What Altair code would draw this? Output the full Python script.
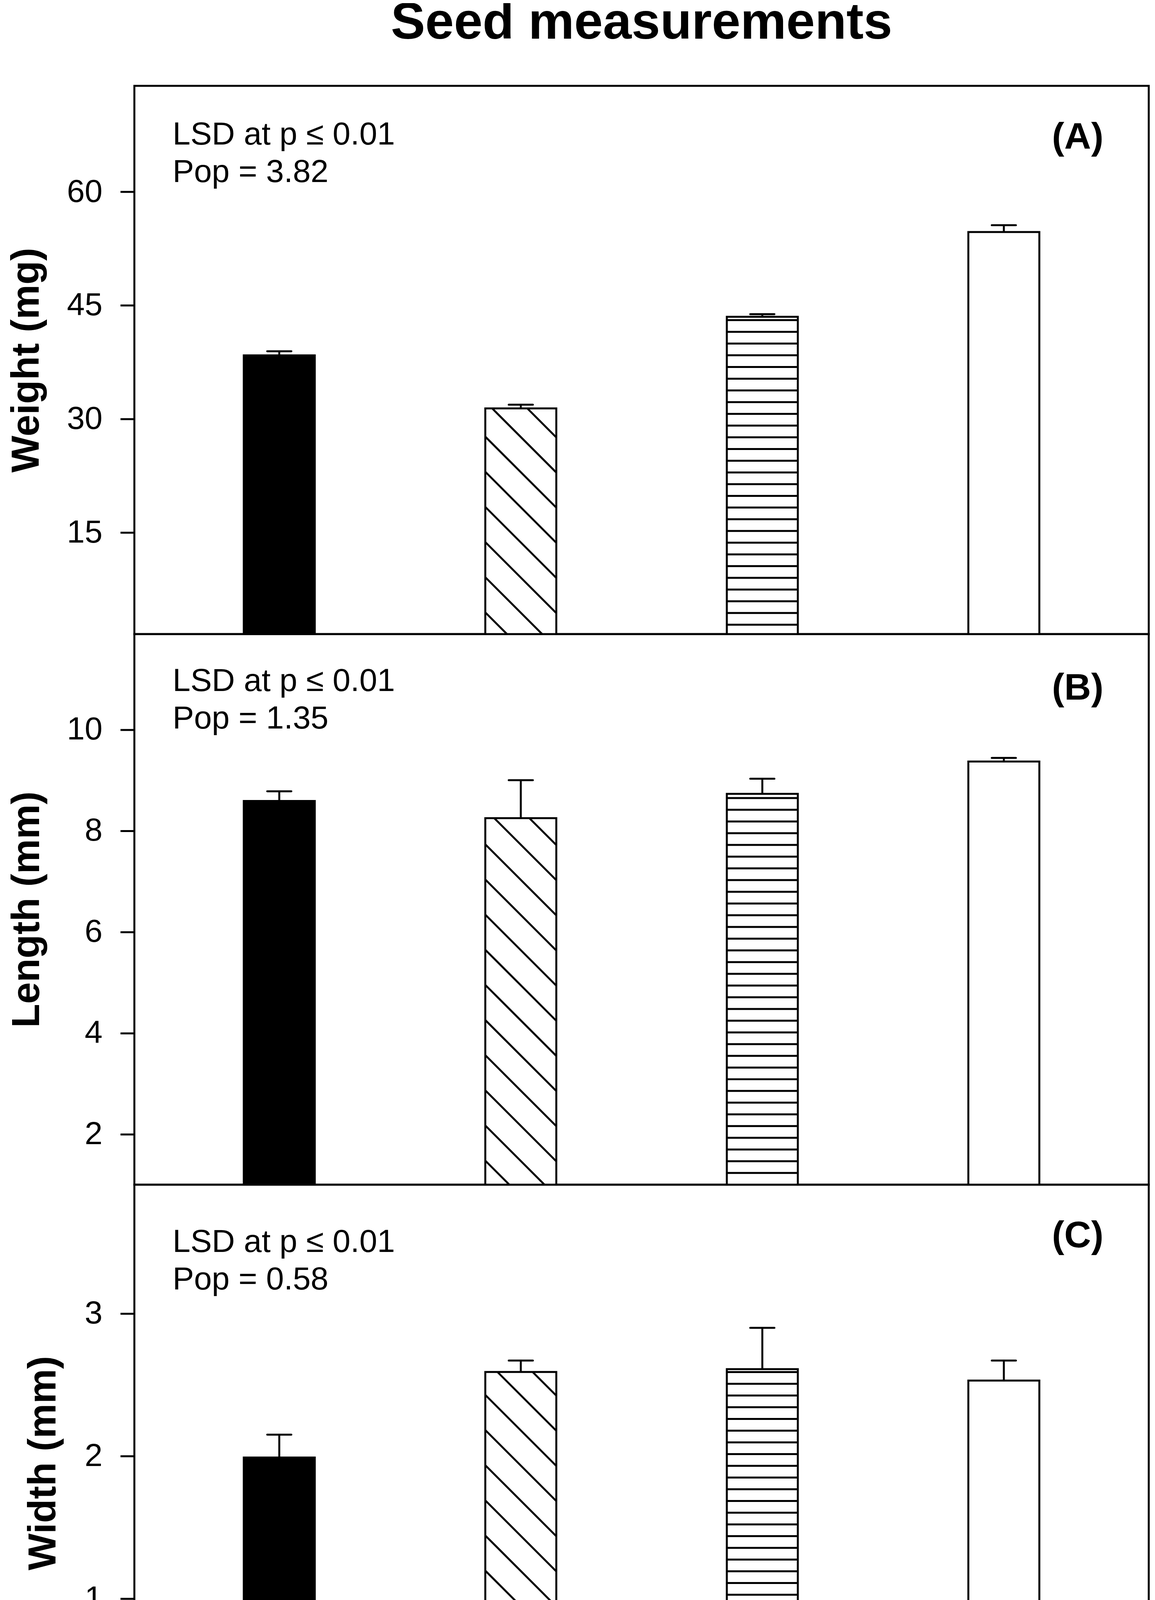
import altair as alt
import pandas as pd
import numpy as np

# ---------------- data ----------------
populations = ["Pop-1", "Pop-2", "Pop-3", "Pop-4"]
weight_mean = [38.4, 31.4, 43.5, 54.7]
weight_err = [0.55, 0.5, 0.35, 0.9]
length_mean = [8.59, 8.25, 8.73, 9.37]
length_err = [0.19, 0.75, 0.30, 0.07]
width_mean = [1.99, 2.59, 2.61, 2.53]
width_err = [0.16, 0.08, 0.29, 0.14]
lsd_pop = ["3.82", "1.35", "0.58"]
panel_tags = ["(A)", "(B)", "(C)"]
y_titles = ["Weight (mg)", "Length (mm)", "Width (mm)"]
y_ticks = [[15, 30, 45, 60], [2, 4, 6, 8, 10], [0, 1, 2, 3]]

# ---------------- layout / style ----------------
FONT = "Liberation Sans, Arial, sans-serif"
W = 2597
heights = [1404, 1410, 1425]
domains = [(1.6, 74.0), (1.0, 11.89), (0.0, 3.904)]
XMIN, XMAX = 0.4, 4.6
HALF = 0.147
CAP = 0.05
LW = 5
fills = ["black", "white", "white", "white"]
hatch = [None, "diag", "horiz", None]
title_x = [-245, -244, -202]
lsd_y = [150, 146, 172]
tag_y = [161, 168, 160]


def hatch_lines(means, ymin, ymax, H):
    step = W / (XMAX - XMIN)
    ppu = H / (ymax - ymin)
    to_x = lambda px: XMIN + px / step
    to_y = lambda py: ymax - py / ppu
    rows = []
    for i, (m, h) in enumerate(zip(means, hatch)):
        pos = i + 1
        xl = (pos - HALF - XMIN) * step
        xr = (pos + HALF - XMIN) * step
        yt = (ymax - m) * ppu
        yb = H
        if h == "diag":
            kmin = int(np.floor((yt - xr) / 90))
            kmax = int(np.ceil((yb - xl) / 90))
            for k in range(kmin, kmax + 1):
                c = 90 * k
                lo = max(xl, yt - c)
                hi = min(xr, yb - c)
                if hi - lo > 1:
                    rows.append(dict(x=to_x(lo), y=to_y(lo + c), x2=to_x(hi), y2=to_y(hi + c)))
        elif h == "horiz":
            k = int(np.ceil((yt + 4) / 30))
            while 30 * k < yb:
                yv = to_y(30 * k)
                rows.append(dict(x=to_x(xl), x2=to_x(xr), y=yv, y2=yv))
                k += 1
    return pd.DataFrame(rows)


label_expr = "[" + ",".join("'%s'" % p for p in populations) + "][datum.value - 1]"


def panel(idx, means, errs):
    ymin, ymax = domains[idx]
    H = heights[idx]
    bottom = idx == 2
    df = pd.DataFrame({"pop": populations, "pos": list(range(1, 5)),
                       "mean": means, "err": errs})
    xscale = alt.Scale(domain=[XMIN, XMAX], nice=False, zero=False)
    yscale = alt.Scale(domain=[ymin, ymax], nice=False, zero=False)
    if bottom:
        xaxis = alt.Axis(values=[1, 2, 3, 4], labelExpr=label_expr, title="Populations",
                         labelFont=FONT, labelFontSize=82, labelColor="black", labelPadding=46,
                         tickSize=28, tickWidth=LW, tickColor="black", grid=False,
                         domain=True, domainWidth=LW, domainColor="black", zindex=1,
                         titleFont=FONT, titleFontSize=100, titleFontWeight="bold",
                         titleColor="black", titleBaseline="alphabetic", titleY=300)
    else:
        xaxis = None
    yaxis = alt.Axis(values=y_ticks[idx], title=y_titles[idx], grid=False, domain=False,
                     labelFont=FONT, labelFontSize=82, labelColor="black", labelPadding=46,
                     labelOverlap=False, labelFlush=False,
                     tickSize=36, tickWidth=LW, tickColor="black",
                     titleFont=FONT, titleFontSize=100, titleFontWeight="bold",
                     titleColor="black", titleBaseline="alphabetic", titleX=title_x[idx])

    base = alt.Chart(df).transform_calculate(
        xl="datum.pos - %f" % HALF, xr="datum.pos + %f" % HALF,
        top="datum.mean + datum.err", cl="datum.pos - %f" % CAP,
        cr="datum.pos + %f" % CAP, zero="0")

    bars = base.mark_bar(stroke="black", strokeWidth=LW, clip=True).encode(
        x=alt.X("xl:Q", scale=xscale, axis=xaxis), x2="xr:Q",
        y=alt.Y("mean:Q", scale=yscale, axis=yaxis), y2="zero:Q",
        fill=alt.Fill("pop:N", scale=alt.Scale(domain=populations, range=fills), legend=None))

    hdf = hatch_lines(means, ymin, ymax, H)
    hatch_layer = alt.Chart(hdf).mark_rule(strokeWidth=LW, color="black", clip=True).encode(
        x=alt.X("x:Q", scale=xscale, axis=xaxis), x2="x2:Q",
        y=alt.Y("y:Q", scale=yscale, axis=yaxis), y2="y2:Q")

    err = base.mark_rule(strokeWidth=LW, color="black").encode(
        x=alt.X("pos:Q", scale=xscale, axis=xaxis),
        y=alt.Y("mean:Q", scale=yscale, axis=yaxis), y2="top:Q")
    cap = base.mark_rule(strokeWidth=LW, color="black", strokeCap="round").encode(
        x=alt.X("cl:Q", scale=xscale, axis=xaxis), x2="cr:Q",
        y=alt.Y("top:Q", scale=yscale, axis=yaxis))

    ann = pd.DataFrame({"l1": ["LSD at p \u2264 0.01"], "l2": ["Pop = " + lsd_pop[idx]],
                        "tag": [panel_tags[idx]]})
    t1 = alt.Chart(ann).mark_text(font=FONT, fontSize=82, color="black", align="left",
                                  baseline="alphabetic").encode(
        x=alt.value(98), y=alt.value(lsd_y[idx]), text="l1:N")
    t2 = alt.Chart(ann).mark_text(font=FONT, fontSize=82, color="black", align="left",
                                  baseline="alphabetic").encode(
        x=alt.value(98), y=alt.value(lsd_y[idx] + 96), text="l2:N")
    t3 = alt.Chart(ann).mark_text(font=FONT, fontSize=95, fontWeight="bold", color="black",
                                  align="right", baseline="alphabetic").encode(
        x=alt.value(W - 116), y=alt.value(tag_y[idx]), text="tag:N")

    return alt.layer(bars, hatch_layer, err, cap, t1, t2, t3).properties(width=W, height=H)


pA = panel(0, weight_mean, weight_err)
pB = panel(1, length_mean, length_err)
pC = panel(2, width_mean, width_err)

chart = alt.vconcat(pA, pB, pC, spacing=0, bounds="flush").properties(
    title=alt.Title("Seed measurements", font=FONT, fontSize=132, fontWeight="bold",
                    color="black", anchor="middle", frame="group",
                    baseline="alphabetic", offset=-14),
    padding={"left": 8, "top": -16, "right": 5, "bottom": 0},
    background="white",
).configure_view(stroke="black", strokeWidth=LW)

chart.save("out.html", embed_options={"renderer": "svg", "actions": False})
